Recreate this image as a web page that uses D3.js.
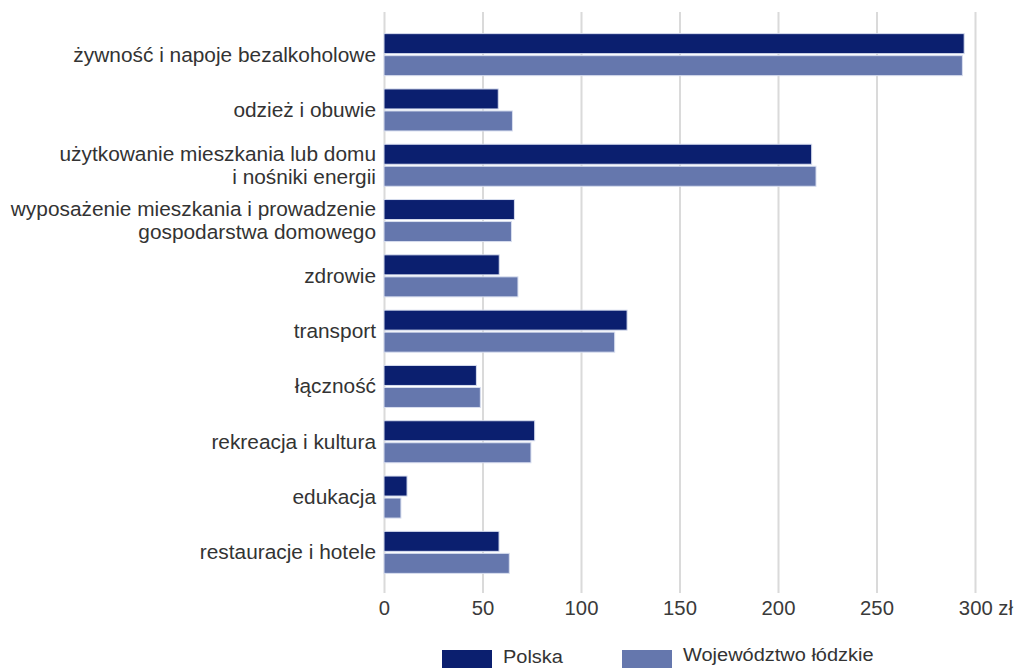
<!DOCTYPE html>
<html><head><meta charset="utf-8">
<script src="https://cdn.jsdelivr.net/npm/d3@7"></script>
<style>
html,body{margin:0;padding:0;background:#fff;overflow:hidden;}
text{font-family:"Liberation Sans",Arial,sans-serif;}
</style></head>
<body><svg id="c" width="1016" height="668"></svg>
<script>
const categories = [
  ["żywność i napoje bezalkoholowe"],
  ["odzież i obuwie"],
  ["użytkowanie mieszkania lub domu","i nośniki energii"],
  ["wyposażenie mieszkania i prowadzenie","gospodarstwa domowego"],
  ["zdrowie"],
  ["transport"],
  ["łączność"],
  ["rekreacja i kultura"],
  ["edukacja"],
  ["restauracje i hotele"]
];
const seriesNames = ["Polska","Województwo łódzkie"];
const polska  = [294.5, 58.0, 217.1, 66.2, 58.5, 123.4, 46.9, 76.5, 11.7, 58.4];
const lodzkie = [293.6, 65.2, 219.3, 64.7, 68.0, 117.1, 48.9, 74.6, 8.6, 63.6];
const tickValues = [0,50,100,150,200,250,300];
const unit = "zł";
const colors = ["#0b1f6f","#6577ad"];

const svg = d3.select("#c");
const x = d3.scaleLinear().domain([0,300]).range([384,975]);
const y = d3.scaleBand().domain(d3.range(categories.length)).range([27,580]).paddingInner(0.24).paddingOuter(0.12);
const ys = d3.scaleBand().domain([0,1]).range([0,y.bandwidth()]).paddingInner(0.0909);

// gridlines
const grid = d3.axisBottom(x).tickValues(tickValues).tickSize(-581).tickFormat("");
svg.append("g").attr("transform","translate(0,593)").call(grid)
  .call(g=>g.select(".domain").remove())
  .call(g=>g.selectAll("line").attr("stroke","#dadada").attr("stroke-width",2));

// tick labels
const ax = d3.axisBottom(x).tickValues(tickValues).tickSize(0).tickPadding(0).tickFormat(d=>d);
const axg = svg.append("g").attr("transform","translate(0,615)").call(ax);
axg.select(".domain").remove();
axg.selectAll(".tick").each(function(d){
  const t = d3.select(this).select("text");
  t.attr("y",0).attr("dy",0).attr("font-size",19.5).attr("fill","#3a3a3a")
   .attr("font-family","Liberation Sans, Arial, sans-serif")
   .attr("transform","scale(1.04,1)");
  if(d===300){ t.append("tspan").text(" "+unit); t.attr("text-anchor","start").attr("dx",-16); }
});

// bars
const data = [polska, lodzkie];
const groups = svg.append("g").selectAll("g").data(categories).join("g")
  .attr("transform",(d,i)=>`translate(0,${y(i)})`);
groups.each(function(d,i){
  d3.select(this).selectAll("rect").data([0,1]).join("rect")
    .attr("x",x(0))
    .attr("y",s=>ys(s))
    .attr("height",ys.bandwidth())
    .attr("width",s=>x(data[s][i])-x(0))
    .attr("fill",s=>colors[s])
    .attr("stroke","#d8deef").attr("stroke-width",1);
});

// category labels
const lh = 23;
groups.each(function(lines,i){
  const cy = y.bandwidth()/2;
  const n = lines.length;
  const g = d3.select(this).append("g").attr("transform",`translate(376,0)`);
  lines.forEach((ln,k)=>{
    g.append("text")
      .attr("transform",`translate(0,${cy + (k-(n-1)/2)*lh + 7}) scale(1.07,1)`)
      .attr("text-anchor","end").attr("font-size",19.5).attr("fill","#333")
      .text(ln);
  });
});

// legend
const leg = svg.append("g");
const legX = [442, 622];
const legTextY = [663, 661];
seriesNames.forEach((s,i)=>{
  leg.append("rect").attr("x",legX[i]).attr("y",650).attr("width",50).attr("height",20).attr("fill",colors[i]);
  leg.append("text").attr("transform",`translate(${legX[i]+61},${legTextY[i]}) scale(1.08,1)`)
    .attr("font-size",18.5).attr("fill","#333").text(s);
});
</script></body></html>
